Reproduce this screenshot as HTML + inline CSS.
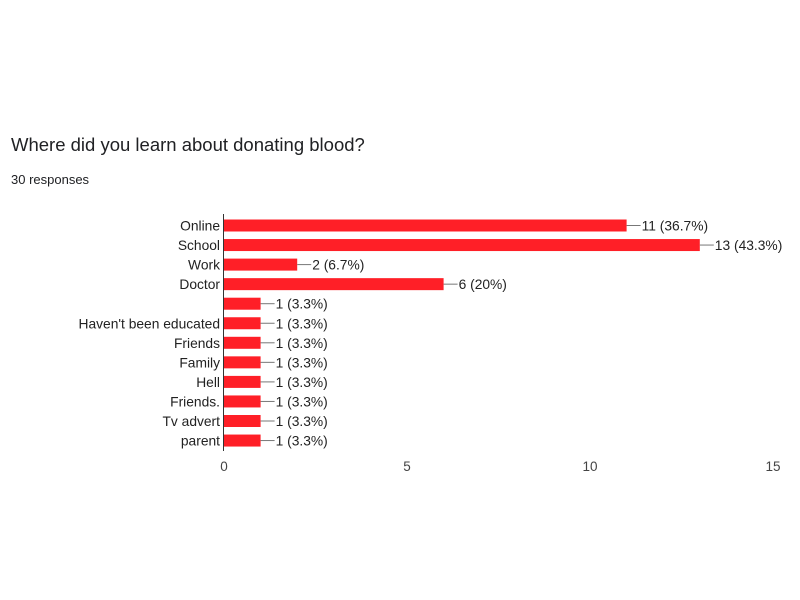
<!DOCTYPE html>
<html><head><meta charset="utf-8"><style>
body{margin:0;background:#fff;}
svg{display:block;font-family:"Liberation Sans",Arial,sans-serif;}
</style></head><body>
<svg width="800" height="600">
<rect width="800" height="600" fill="#fff"/>
<text x="11" y="151" font-size="18.5" fill="#202124">Where did you learn about donating blood?</text>
<text x="11" y="184" font-size="13" fill="#202124">30 responses</text>
<g id="plot"></g>
</svg>
<script>
const categories=["Online","School","Work","Doctor","","Haven't been educated","Friends","Family","Hell","Friends.","Tv advert","parent"];
const values=[11,13,2,6,1,1,1,1,1,1,1,1];
const labels=["11 (36.7%)","13 (43.3%)","2 (6.7%)","6 (20%)","1 (3.3%)","1 (3.3%)","1 (3.3%)","1 (3.3%)","1 (3.3%)","1 (3.3%)","1 (3.3%)","1 (3.3%)"];
const ticks=[0,5,10,15];
const NS="http://www.w3.org/2000/svg";
const g=document.getElementById('plot');
const x0=224,pxu=36.6;
const xs=v=>x0+v*pxu;
const ys=i=>225.5+i*19.55;
function mk(t,a){const e=document.createElementNS(NS,t);for(const k in a)e.setAttribute(k,a[k]);g.appendChild(e);return e;}
categories.forEach((c,i)=>{
 const y=ys(i);
 const b=mk('rect',{x:x0,y:y-6,width:xs(values[i])-x0,height:12,fill:'#ff1f27'});
 
 
 const t=mk('text',{x:220,y:y+5,'font-size':13.8,'text-anchor':'end',fill:'#222'});t.textContent=c;
 
 
 const ex=xs(values[i]);
 const l=mk('line',{x1:ex,x2:ex+14,y1:y,y2:y,stroke:'#777','stroke-width':1});
 
 
 const v=mk('text',{x:ex+15,y:y+5,'font-size':13.8,fill:'#222'});v.textContent=labels[i];
 
 
});
const ax=mk('line',{x1:x0-0.5,x2:x0-0.5,y1:214,y2:451,stroke:'#333','stroke-width':1});


ticks.forEach(t=>{
 const e=mk('text',{x:xs(t),y:471,'font-size':13.5,'text-anchor':'middle',fill:'#444'});e.textContent=t;
 
 
});
</script>
</body></html>
